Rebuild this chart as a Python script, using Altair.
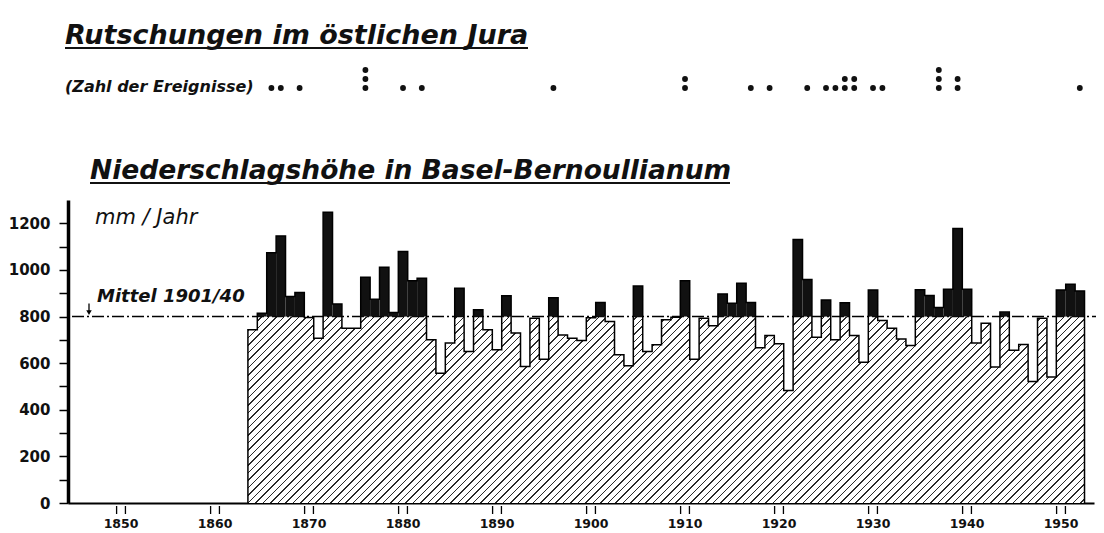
import altair as alt
import pandas as pd

# ---------------- data ----------------
years = list(range(1864, 1953))
precip = [743, 814, 1074, 1146, 886, 903, 796, 707, 1247, 854,
          750, 750, 969, 874, 1011, 817, 1079, 954, 964, 700,
          557, 686, 921, 650, 829, 743, 657, 889, 729, 586,
          793, 617, 881, 721, 707, 697, 795, 860, 779, 636,
          589, 931, 650, 679, 786, 797, 954, 617, 793, 760,
          897, 857, 943, 860, 666, 719, 683, 483, 1130, 959,
          711, 871, 700, 859, 719, 604, 914, 783, 750, 704,
          676, 915, 890, 839, 917, 1178, 917, 686, 771, 583,
          819, 655, 680, 521, 793, 541, 914, 939, 910]
mean_value = 800  # Mittel 1901/40

event_years = [1866, 1867, 1869, 1876, 1880, 1882, 1896, 1910, 1917, 1919,
               1923, 1925, 1926, 1927, 1928, 1930, 1931, 1937, 1939, 1952]
event_counts = [1, 1, 1, 3, 1, 1, 1, 2, 1, 1,
                1, 1, 1, 2, 2, 1, 1, 3, 2, 1]

decades = list(range(1850, 1960, 10))
y_ticks = list(range(0, 1300, 100))

# ---------------- layout ----------------
W, H = 1026, 303
PPY = 9.4
X0 = 1844.36
X1 = X0 + W / PPY
YMAX = 1300
xscale = alt.Scale(domain=[X0, X1], nice=False, zero=False)
yscale = alt.Scale(domain=[0, YMAX], nice=False, zero=True)
FONT = "DejaVu Sans"

df = pd.DataFrame({"year": years, "value": precip})
df["x0"] = df["year"] - 0.5
df["x1"] = df["year"] + 0.5
df["base"] = df["value"].clip(upper=mean_value)

area_df = pd.DataFrame({
    "x": list(df["x0"]) + [df["x1"].iloc[-1]],
    "y": list(df["base"]) + [df["base"].iloc[-1]],
})

line_x = [df["x0"].iloc[0]] + list(df["x0"]) + [df["x1"].iloc[-1], df["x1"].iloc[-1]]
line_y = [0] + list(df["value"]) + [df["value"].iloc[-1], 0]
line_df = pd.DataFrame({"x": line_x, "y": line_y, "i": list(range(len(line_x)))})

excess_df = df[df["value"] > mean_value].copy()
excess_df["m"] = mean_value

dot_rows = []
for yr, c in zip(event_years, event_counts):
    for k in range(1, c + 1):
        dot_rows.append({"year": yr, "level": k})
dots_df = pd.DataFrame(dot_rows)

double_ticks = []
for d in decades:
    double_ticks += [d - 0.47, d + 0.47]
ticks_df = pd.DataFrame({"tx": double_ticks})
decade_df = pd.DataFrame({"d": decades, "lab": [str(d) for d in decades]})

# ---------------- hatch gradient ----------------
aw = len(years) * PPY
ah = mean_value / YMAX * H
r = ah / aw
ga = (aw + ah) / (aw * (1 + r * r))
gb = ga * r
period = 7.5
dt = period / (aw + ah)
n = int(1 / dt) + 1
stops = []
for i in range(n):
    s = i * dt
    for off, col in [(s, "#ffffff"), (s + 0.8 * dt, "#ffffff"),
                     (s + 0.8 * dt, "#2a2a2a"), (s + dt, "#2a2a2a")]:
        if off <= 1:
            stops.append(alt.GradientStop(color=col, offset=round(off, 6)))
hatch = alt.LinearGradient(gradient="linear", stops=stops, x1=0, y1=0, x2=ga, y2=gb)

# shared x axis definition (same object in every layer so the merged axis keeps it)
xaxis = alt.Axis(values=decades, ticks=False, labels=False, domain=True, domainWidth=2,
                 domainColor="black", title=None, grid=False)


def X(field):
    return alt.X(field, type="quantitative", scale=xscale, axis=xaxis)


# ---------------- layers ----------------
area = alt.Chart(area_df).mark_area(interpolate="step-after", fill=hatch).encode(
    x=X("x"),
    y=alt.Y("y:Q", scale=yscale, axis=alt.Axis(
        values=y_ticks, labelExpr="datum.value % 200 == 0 ? datum.label : ''",
        tickSize=9, tickWidth=1.5, tickColor="black", domainWidth=3.5, domainColor="black",
        labelFont=FONT, labelFontWeight="bold", labelFontSize=15, labelPadding=9,
        labelColor="#111", title=None, grid=False, format="d")),
    y2=alt.datum(0),
)

mean_rule = alt.Chart(pd.DataFrame({"m": [mean_value]})).mark_rule(
    color="black", strokeWidth=1.4, strokeDash=[12, 3, 2, 3]).encode(
    y=alt.Y("m:Q", scale=yscale, axis=None),
    x=alt.value(4), x2=alt.value(W + 20),
)

black = alt.Chart(excess_df).mark_rect(color="#111111").encode(
    x=X("x0"),
    x2="x1:Q",
    y=alt.Y("m:Q", scale=yscale, axis=None),
    y2="value:Q",
)

outline = alt.Chart(line_df).mark_line(interpolate="step-after", color="black", strokeWidth=1.5).encode(
    x=X("x"),
    y=alt.Y("y:Q", scale=yscale, axis=None),
    order="i:Q",
)

xticks = alt.Chart(ticks_df).mark_rule(color="black", strokeWidth=1.3).encode(
    x=X("tx"),
    y=alt.value(H + 3), y2=alt.value(H + 11),
)

xlabels = alt.Chart(decade_df).mark_text(
    font=FONT, fontSize=12.5, fontWeight="bold", color="#111", baseline="middle", align="center"
).encode(
    x=X("d"),
    y=alt.value(H + 21),
    text="lab:N",
)

dots = alt.Chart(dots_df).mark_point(filled=True, shape="circle", size=34, color="#111", opacity=1).encode(
    x=X("year"),
    y=alt.Y("level:Q", scale=alt.Scale(domain=[1, 3], range=[-112, -130]), axis=None),
)


def label(text, x, y, size, weight="normal", baseline="alphabetic"):
    return alt.Chart(alt.Data(values=[{"a": 1}])).mark_text(
        text=text, font=FONT, fontStyle="italic", fontSize=size, fontWeight=weight,
        align="left", baseline=baseline, color="#111").encode(
        x=alt.value(x), y=alt.value(y))


def underline(x1, x2, y):
    return alt.Chart(alt.Data(values=[{"a": 1}])).mark_rule(color="#111", strokeWidth=2).encode(
        x=alt.value(x1), x2=alt.value(x2), y=alt.value(y))


py_mean = H - mean_value / YMAX * H

arrow_stem = alt.Chart(alt.Data(values=[{"a": 1}])).mark_rule(color="black", strokeWidth=1.3).encode(
    x=alt.value(21), y=alt.value(py_mean - 13), y2=alt.value(py_mean - 5))
arrow_head = alt.Chart(alt.Data(values=[{"a": 1}])).mark_point(
    shape="triangle-down", filled=True, size=30, color="black", opacity=1).encode(
    x=alt.value(21), y=alt.value(py_mean - 4))

chart = alt.layer(
    area, mean_rule, black, outline, xticks, xlabels, dots,
    label("Rutschungen im östlichen Jura", -3, -156, 27, weight="bold"),
    underline(-3, 460, -152),
    label("(Zahl der Ereignisse)", -3, -113, 16, weight="bold", baseline="middle"),
    label("Niederschlagshöhe in Basel-Bernoullianum", 22, -21, 26.5, weight="bold"),
    underline(22, 662, -17),
    label("mm / Jahr", 27, 18, 21, baseline="middle"),
    label("Mittel 1901/40", 29, py_mean - 20, 18, weight="bold", baseline="middle"),
    arrow_stem, arrow_head,
).resolve_scale(y="independent").properties(
    width=W, height=H,
    padding={"left": 60, "top": 192, "right": 2, "bottom": 30},
    autosize=alt.AutoSizeParams(type="none"),
).configure_view(stroke=None)

chart.save("out.html", embed_options={"renderer": "svg", "actions": False})
